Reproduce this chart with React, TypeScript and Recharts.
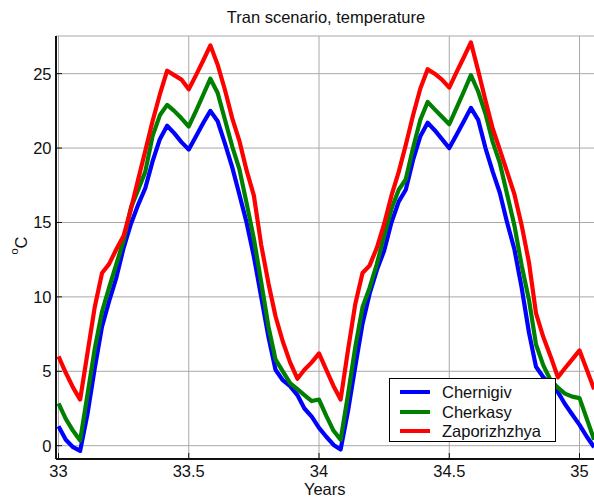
import React from 'react';
import { LineChart, Line, XAxis, YAxis, CartesianGrid, Legend, Label } from 'recharts';

// Sampling times (decimal years, ~10-day step)
const years = [
  33.0, 33.028, 33.056, 33.083, 33.111, 33.139, 33.167, 33.194, 33.222, 33.25,
  33.278, 33.306, 33.333, 33.361, 33.389, 33.417, 33.444, 33.472, 33.5, 33.528,
  33.556, 33.583, 33.611, 33.639, 33.667, 33.694, 33.722, 33.75, 33.778, 33.806,
  33.833, 33.861, 33.889, 33.917, 33.944, 33.972, 34.0, 34.028, 34.056, 34.083,
  34.111, 34.139, 34.167, 34.194, 34.222, 34.25, 34.278, 34.306, 34.333, 34.361,
  34.389, 34.417, 34.444, 34.472, 34.5, 34.528, 34.556, 34.583, 34.611, 34.639,
  34.667, 34.694, 34.722, 34.75, 34.778, 34.806, 34.833, 34.861, 34.889, 34.917,
  34.944, 34.972, 35.0, 35.028, 35.056,
];

// Temperature, °C
const chernigiv = [
  1.3, 0.4, -0.1, -0.35, 2.1, 5.2, 8.0, 9.7, 11.3, 13.3,
  14.9, 16.2, 17.3, 19.1, 20.6, 21.5, 21.0, 20.4, 19.9, 20.8,
  21.7, 22.5, 21.8, 20.3, 18.7, 16.9, 15.0, 12.7, 10.0, 7.3,
  5.1, 4.4, 4.0, 3.4, 2.5, 1.95, 1.2, 0.6, 0.05, -0.25,
  2.3, 5.3, 8.2, 10.2, 11.8, 13.1, 15.0, 16.4, 17.2, 19.2,
  20.8, 21.7, 21.2, 20.6, 20.0, 20.9, 21.8, 22.7, 21.9, 20.0,
  18.4, 17.0, 15.0, 13.2, 10.6, 7.6, 5.3, 4.6, 4.1, 3.6,
  2.8, 2.1, 1.4, 0.6, -0.1,
];

const cherkasy = [
  2.85, 1.8, 1.0, 0.35, 3.4, 6.5, 9.0, 10.6, 12.2, 13.8,
  16.0, 17.2, 18.4, 20.8, 22.2, 22.9, 22.5, 22.0, 21.45, 22.5,
  23.6, 24.66, 23.7, 21.9, 20.1, 18.6, 16.3, 13.9, 11.0, 8.0,
  5.8, 5.0, 4.2, 3.8, 3.4, 3.0, 3.1, 2.0, 1.0, 0.4,
  3.4, 6.6, 9.3, 10.6, 12.2, 14.1, 15.9, 17.2, 17.9, 20.0,
  21.9, 23.1, 22.6, 22.1, 21.6, 22.7, 23.8, 24.9, 23.8, 22.3,
  20.4, 19.0, 16.9, 14.8, 12.1, 9.8, 6.8, 5.4, 4.4, 3.9,
  3.5, 3.3, 3.2, 1.8, 0.4,
];

const zaporizhzhya = [
  6.0, 4.9, 3.9, 3.1, 6.2, 9.3, 11.6, 12.2, 13.2, 14.1,
  15.9, 17.9, 19.8, 21.8, 23.6, 25.2, 24.9, 24.6, 23.95, 24.9,
  25.9, 26.9, 25.6, 23.9, 22.0, 20.5, 18.5, 16.8, 13.5, 10.9,
  8.7, 7.0, 5.6, 4.5, 5.1, 5.6, 6.2, 5.1, 4.0, 3.1,
  6.4, 9.5, 11.6, 12.1, 13.3, 14.9, 16.8, 18.4, 20.2, 22.2,
  24.0, 25.3, 25.0, 24.6, 24.06, 25.1, 26.1, 27.1, 25.2, 23.2,
  21.3, 19.9, 18.4, 16.9, 14.8, 12.3, 8.9, 7.3, 6.0, 4.6,
  5.2, 5.8, 6.4, 5.1, 3.8,
];

const seriesKeys = ['chernigiv', 'cherkasy', 'zaporizhzhya'];
const seriesNames = ['Chernigiv', 'Cherkasy', 'Zaporizhzhya'];
const seriesColors = ['#0000ff', '#008000', '#ff0000'];

const xTicks = [33, 33.5, 34, 34.5, 35];
const yTicks = [0, 5, 10, 15, 20, 25];
const xDomain = [32.9904, 35.069];
const yDomain = [-0.894, 27.53];

const titleText = 'Tran scenario, temperature';
const xLabelText = 'Years';

const rows = years.map((t, i) => ({
  t,
  chernigiv: chernigiv[i],
  cherkasy: cherkasy[i],
  zaporizhzhya: zaporizhzhya[i],
}));

const FONT = '"Liberation Sans", Arial, Helvetica, sans-serif';
const FS = 16.5;
const INK = '#111';
const TICK_LEN = 6;

const W = 600;
const H = 502;
const MARGIN = { top: 36, right: 2.5, bottom: 0, left: 0 };
const Y_AXIS_W = 56;
const X_AXIS_H = 43;
const PLOT_LEFT = MARGIN.left + Y_AXIS_W;
const PLOT_RIGHT = W - MARGIN.right;

const BottomTick = (p: any) => (
  <g>
    <line x1={p.x} x2={p.x} y1={p.y} y2={p.y - TICK_LEN} stroke={INK} strokeWidth={1} />
    <text x={p.x} y={p.y + 18.3} textAnchor="middle" fontFamily={FONT} fontSize={FS} fill={INK}>
      {String(p.payload.value)}
    </text>
  </g>
);

const TopTick = (p: any) => (
  <line x1={p.x} x2={p.x} y1={p.y} y2={p.y + TICK_LEN} stroke={INK} strokeWidth={1} />
);

const LeftTick = (p: any) => (
  <g>
    <line x1={p.x} x2={p.x + TICK_LEN} y1={p.y} y2={p.y} stroke={INK} strokeWidth={1} />
    <text x={p.x - 4.5} y={p.y + 6} textAnchor="end" fontFamily={FONT} fontSize={FS} fill={INK}>
      {String(p.payload.value)}
    </text>
  </g>
);

const RightTick = (p: any) => (
  <line x1={p.x} x2={p.x - TICK_LEN} y1={p.y} y2={p.y} stroke={INK} strokeWidth={1} />
);

// Chart title, centred over the (visible) plot box
const TitleLabel = (p: any) => {
  const vb = p.viewBox || { y: MARGIN.top };
  const cx = (PLOT_LEFT + Math.min(PLOT_RIGHT, 594)) / 2 + 1;
  return (
    <text x={cx} y={vb.y - 12.8} textAnchor="middle" fontFamily={FONT} fontSize={FS} fill={INK}>
      {titleText}
    </text>
  );
};

const XTitle = (p: any) => {
  const vb = p.viewBox || { x: 56, y: 459, width: 541.5 };
  return (
    <text x={vb.x + vb.width / 2 - 2} y={vb.y + 36} textAnchor="middle" fontFamily={FONT} fontSize={FS} fill={INK}>
      {xLabelText}
    </text>
  );
};

const YTitle = (p: any) => {
  const vb = p.viewBox || { x: 0, y: 36, width: 56, height: 423 };
  const cy = vb.y + vb.height / 2 - 2;
  return (
    <text transform={`translate(27, ${cy}) rotate(-90)`} textAnchor="middle" fontFamily={FONT} fill={INK}>
      <tspan fontSize={11} dy={-9}>o</tspan>
      <tspan fontSize={FS} dy={9}>C</tspan>
    </text>
  );
};

const LegendBox = () => (
  <div
    style={{
      position: 'relative',
      width: 167,
      height: 64,
      boxSizing: 'border-box',
      border: '1px solid #000',
      background: '#fff',
      fontFamily: FONT,
      fontSize: FS,
      color: INK,
    }}
  >
    {seriesNames.map((name, i) => (
      <div key={name} style={{ position: 'absolute', left: 0, top: 3 + i * 19.5, height: 20, width: 165 }}>
        <svg width={40} height={20} style={{ position: 'absolute', left: 0, top: 0 }}>
          <line x1={10} x2={40} y1={10} y2={10} stroke={seriesColors[i]} strokeWidth={4} />
        </svg>
        <span style={{ position: 'absolute', left: 52, top: 0, lineHeight: '20px', whiteSpace: 'nowrap' }}>{name}</span>
      </div>
    ))}
  </div>
);

export default function App() {
  return (
    <div style={{ position: 'absolute', left: 0, top: 0, width: 594, height: 502, overflow: 'hidden', background: '#fff' }}>
      <LineChart width={W} height={H} data={rows} margin={MARGIN}>
        <CartesianGrid stroke="#a8a8a8" strokeWidth={1} />
        <XAxis
          dataKey="t"
          type="number"
          domain={xDomain}
          allowDataOverflow
          ticks={xTicks}
          interval={0}
          height={X_AXIS_H}
          tickSize={0}
          tickMargin={0}
          tickLine={false}
          tick={<BottomTick />}
          axisLine={{ stroke: INK, strokeWidth: 2 }}
        >
          <Label content={<XTitle />} />
        </XAxis>
        <XAxis
          xAxisId="top"
          orientation="top"
          dataKey="t"
          type="number"
          domain={xDomain}
          allowDataOverflow
          ticks={xTicks}
          interval={0}
          height={0}
          tickSize={0}
          tickMargin={0}
          tickLine={false}
          tick={<TopTick />}
          axisLine={{ stroke: INK, strokeWidth: 2 }}
        />
        <YAxis
          type="number"
          domain={yDomain}
          allowDataOverflow
          ticks={yTicks}
          interval={0}
          width={Y_AXIS_W}
          tickSize={0}
          tickMargin={0}
          tickLine={false}
          tick={<LeftTick />}
          axisLine={{ stroke: INK, strokeWidth: 2 }}
        >
          <Label content={<YTitle />} />
          <Label content={<TitleLabel />} />
        </YAxis>
        <YAxis
          yAxisId="right"
          orientation="right"
          type="number"
          domain={yDomain}
          allowDataOverflow
          ticks={yTicks}
          interval={0}
          width={0}
          tickSize={0}
          tickMargin={0}
          tickLine={false}
          tick={<RightTick />}
          axisLine={{ stroke: INK, strokeWidth: 2 }}
        />
        {seriesKeys.map((k, i) => (
          <Line
            key={k}
            dataKey={k}
            name={seriesNames[i]}
            type="linear"
            stroke={seriesColors[i]}
            strokeWidth={4.2}
            strokeLinejoin="round"
            dot={false}
            activeDot={false}
            isAnimationActive={false}
          />
        ))}
        <Legend
          layout="vertical"
          align="center"
          verticalAlign="middle"
          content={<LegendBox />}
          wrapperStyle={{ position: 'absolute', left: 389, top: 378, width: 167, height: 64, margin: 0 }}
        />
      </LineChart>
    </div>
  );
}
